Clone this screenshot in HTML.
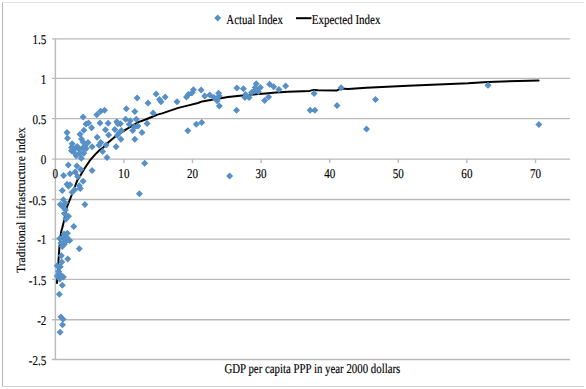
<!DOCTYPE html>
<html><head><meta charset="utf-8"><style>
html,body{margin:0;padding:0;background:#fff;}
body{width:586px;height:389px;overflow:hidden;position:relative;}
svg{position:absolute;left:0;top:0;}
text{font-family:"Liberation Serif",serif;font-size:13.5px;fill:#000;stroke:#000;stroke-width:0.15px;text-rendering:geometricPrecision;}
text.n{font-size:13.5px;}
</style></head><body>
<svg width="586" height="389" viewBox="0 0 586 389">
<rect x="0" y="0" width="586" height="389" fill="#fff"/>
<line x1="2.5" y1="2" x2="2.5" y2="387" stroke="#b5b5b5" stroke-width="1"/>
<line x1="2" y1="2.5" x2="584" y2="2.5" stroke="#e3e3e3" stroke-width="1"/>
<line x1="2" y1="386.5" x2="584" y2="386.5" stroke="#d2d2d2" stroke-width="1"/>
<g stroke="#bababa" stroke-width="1.4"><line x1="52" y1="38.90" x2="570" y2="38.90"/><line x1="52" y1="78.40" x2="570" y2="78.40"/><line x1="52" y1="118.60" x2="570" y2="118.60"/><line x1="52" y1="159.10" x2="570" y2="159.10"/><line x1="52" y1="199.50" x2="570" y2="199.50"/><line x1="52" y1="239.10" x2="570" y2="239.10"/><line x1="52" y1="279.40" x2="570" y2="279.40"/><line x1="52" y1="319.80" x2="570" y2="319.80"/><line x1="52" y1="359.50" x2="570" y2="359.50"/>
<line x1="55.4" y1="38.9" x2="55.4" y2="359.5"/><line x1="123.90" y1="159" x2="123.90" y2="163"/><line x1="192.50" y1="159" x2="192.50" y2="163"/><line x1="261.10" y1="159" x2="261.10" y2="163"/><line x1="329.70" y1="159" x2="329.70" y2="163"/><line x1="398.30" y1="159" x2="398.30" y2="163"/><line x1="466.90" y1="159" x2="466.90" y2="163"/><line x1="535.50" y1="159" x2="535.50" y2="163"/></g>
<g><text class="n" transform="translate(46.4 44.20) scale(0.82 1)" text-anchor="end">1.5</text><text class="n" transform="translate(46.4 83.70) scale(0.82 1)" text-anchor="end">1</text><text class="n" transform="translate(46.4 123.90) scale(0.82 1)" text-anchor="end">0.5</text><text class="n" transform="translate(46.4 164.40) scale(0.82 1)" text-anchor="end">0</text><text class="n" transform="translate(46.4 204.80) scale(0.82 1)" text-anchor="end">-0.5</text><text class="n" transform="translate(46.4 244.40) scale(0.82 1)" text-anchor="end">-1</text><text class="n" transform="translate(46.4 284.70) scale(0.82 1)" text-anchor="end">-1.5</text><text class="n" transform="translate(46.4 325.10) scale(0.82 1)" text-anchor="end">-2</text><text class="n" transform="translate(46.4 364.80) scale(0.82 1)" text-anchor="end">-2.5</text><text class="n" transform="translate(55.30 178) scale(0.82 1)" text-anchor="middle">0</text><text class="n" transform="translate(123.90 178) scale(0.82 1)" text-anchor="middle">10</text><text class="n" transform="translate(192.50 178) scale(0.82 1)" text-anchor="middle">20</text><text class="n" transform="translate(261.10 178) scale(0.82 1)" text-anchor="middle">30</text><text class="n" transform="translate(329.70 178) scale(0.82 1)" text-anchor="middle">40</text><text class="n" transform="translate(398.30 178) scale(0.82 1)" text-anchor="middle">50</text><text class="n" transform="translate(466.90 178) scale(0.82 1)" text-anchor="middle">60</text><text class="n" transform="translate(535.50 178) scale(0.82 1)" text-anchor="middle">70</text></g>
<path d="M57.0 283.0 L58.3 263.5 L59.3 248.6 L61.0 232.5 L62.3 227.8 L63.6 222.4 L66.8 207.3 L71.7 195.0 L77.3 180.3 L80.4 175.6 L84.2 169.0 L90.4 159.8 L95.5 154.1 L99.7 150.0 L103.4 147.4 L108.5 142.2 L114.1 137.5 L124.9 130.1 L131.6 126.2 L138.4 122.1 L145.7 119.5 L152.9 116.5 L157.5 114.6 L162.1 113.4 L168.0 111.4 L178.3 107.9 L188.5 105.4 L198.0 103.0 L202.1 101.4 L213.4 99.6 L228.0 97.0 L242.4 95.4 L258.0 94.1 L265.7 93.4 L276.0 92.4 L288.0 91.8 L309.6 90.9 L313.7 89.9 L318.0 90.3 L337.0 90.4 L340.6 88.6 L348.0 88.9 L366.4 87.7 L408.0 85.8 L468.0 83.2 L487.8 81.9 L538.6 80.4" fill="none" stroke="#000" stroke-width="2" stroke-linejoin="round" stroke-linecap="round"/>
<path d="M83.1 113.5l3.5 3.5l-3.5 3.5l-3.5 -3.5zM96.8 111.2l3.5 3.5l-3.5 3.5l-3.5 -3.5zM100.6 107.8l3.5 3.5l-3.5 3.5l-3.5 -3.5zM104.5 106.8l3.5 3.5l-3.5 3.5l-3.5 -3.5zM86.0 120.6l3.5 3.5l-3.5 3.5l-3.5 -3.5zM88.5 119.6l3.5 3.5l-3.5 3.5l-3.5 -3.5zM91.6 124.2l3.5 3.5l-3.5 3.5l-3.5 -3.5zM100.0 119.4l3.5 3.5l-3.5 3.5l-3.5 -3.5zM108.1 119.8l3.5 3.5l-3.5 3.5l-3.5 -3.5zM83.9 126.8l3.5 3.5l-3.5 3.5l-3.5 -3.5zM80.0 130.7l3.5 3.5l-3.5 3.5l-3.5 -3.5zM67.0 129.1l3.5 3.5l-3.5 3.5l-3.5 -3.5zM67.5 134.8l3.5 3.5l-3.5 3.5l-3.5 -3.5zM105.5 126.2l3.5 3.5l-3.5 3.5l-3.5 -3.5zM97.1 133.8l3.5 3.5l-3.5 3.5l-3.5 -3.5zM81.5 135.5l3.5 3.5l-3.5 3.5l-3.5 -3.5zM108.6 131.4l3.5 3.5l-3.5 3.5l-3.5 -3.5zM88.0 138.9l3.5 3.5l-3.5 3.5l-3.5 -3.5zM72.1 140.3l3.5 3.5l-3.5 3.5l-3.5 -3.5zM92.1 143.2l3.5 3.5l-3.5 3.5l-3.5 -3.5zM100.8 139.0l3.5 3.5l-3.5 3.5l-3.5 -3.5zM99.0 141.8l3.5 3.5l-3.5 3.5l-3.5 -3.5zM106.1 141.5l3.5 3.5l-3.5 3.5l-3.5 -3.5zM102.6 148.0l3.5 3.5l-3.5 3.5l-3.5 -3.5zM107.0 154.1l3.5 3.5l-3.5 3.5l-3.5 -3.5zM81.3 154.8l3.5 3.5l-3.5 3.5l-3.5 -3.5zM71.5 144.0l3.5 3.5l-3.5 3.5l-3.5 -3.5zM71.5 147.3l3.5 3.5l-3.5 3.5l-3.5 -3.5zM75.7 144.2l3.5 3.5l-3.5 3.5l-3.5 -3.5zM77.2 142.9l3.5 3.5l-3.5 3.5l-3.5 -3.5zM82.9 144.2l3.5 3.5l-3.5 3.5l-3.5 -3.5zM86.2 145.0l3.5 3.5l-3.5 3.5l-3.5 -3.5zM73.6 148.4l3.5 3.5l-3.5 3.5l-3.5 -3.5zM79.8 149.4l3.5 3.5l-3.5 3.5l-3.5 -3.5zM83.8 149.8l3.5 3.5l-3.5 3.5l-3.5 -3.5zM76.2 152.3l3.5 3.5l-3.5 3.5l-3.5 -3.5zM68.3 161.5l3.5 3.5l-3.5 3.5l-3.5 -3.5zM76.9 162.6l3.5 3.5l-3.5 3.5l-3.5 -3.5zM80.8 165.9l3.5 3.5l-3.5 3.5l-3.5 -3.5zM75.2 168.5l3.5 3.5l-3.5 3.5l-3.5 -3.5zM70.0 170.2l3.5 3.5l-3.5 3.5l-3.5 -3.5zM63.6 172.1l3.5 3.5l-3.5 3.5l-3.5 -3.5zM92.1 167.1l3.5 3.5l-3.5 3.5l-3.5 -3.5zM77.7 173.1l3.5 3.5l-3.5 3.5l-3.5 -3.5zM83.1 177.7l3.5 3.5l-3.5 3.5l-3.5 -3.5zM67.0 180.8l3.5 3.5l-3.5 3.5l-3.5 -3.5zM70.0 181.3l3.5 3.5l-3.5 3.5l-3.5 -3.5zM68.5 182.8l3.5 3.5l-3.5 3.5l-3.5 -3.5zM62.3 187.0l3.5 3.5l-3.5 3.5l-3.5 -3.5zM79.3 182.3l3.5 3.5l-3.5 3.5l-3.5 -3.5zM80.3 184.9l3.5 3.5l-3.5 3.5l-3.5 -3.5zM74.7 186.3l3.5 3.5l-3.5 3.5l-3.5 -3.5zM72.1 188.8l3.5 3.5l-3.5 3.5l-3.5 -3.5zM63.4 196.3l3.5 3.5l-3.5 3.5l-3.5 -3.5zM65.4 199.3l3.5 3.5l-3.5 3.5l-3.5 -3.5zM60.3 200.9l3.5 3.5l-3.5 3.5l-3.5 -3.5zM63.4 204.0l3.5 3.5l-3.5 3.5l-3.5 -3.5zM65.4 206.5l3.5 3.5l-3.5 3.5l-3.5 -3.5zM64.4 210.1l3.5 3.5l-3.5 3.5l-3.5 -3.5zM68.5 212.7l3.5 3.5l-3.5 3.5l-3.5 -3.5zM65.9 215.8l3.5 3.5l-3.5 3.5l-3.5 -3.5zM84.9 200.9l3.5 3.5l-3.5 3.5l-3.5 -3.5zM73.8 223.1l3.5 3.5l-3.5 3.5l-3.5 -3.5zM62.3 243.1l3.5 3.5l-3.5 3.5l-3.5 -3.5zM79.3 245.3l3.5 3.5l-3.5 3.5l-3.5 -3.5zM61.3 252.3l3.5 3.5l-3.5 3.5l-3.5 -3.5zM67.7 255.4l3.5 3.5l-3.5 3.5l-3.5 -3.5zM61.8 258.6l3.5 3.5l-3.5 3.5l-3.5 -3.5zM57.2 262.2l3.5 3.5l-3.5 3.5l-3.5 -3.5zM60.3 263.2l3.5 3.5l-3.5 3.5l-3.5 -3.5zM58.7 267.9l3.5 3.5l-3.5 3.5l-3.5 -3.5zM60.3 270.9l3.5 3.5l-3.5 3.5l-3.5 -3.5zM57.2 272.5l3.5 3.5l-3.5 3.5l-3.5 -3.5zM63.4 273.5l3.5 3.5l-3.5 3.5l-3.5 -3.5zM59.8 275.6l3.5 3.5l-3.5 3.5l-3.5 -3.5zM62.3 281.7l3.5 3.5l-3.5 3.5l-3.5 -3.5zM59.3 290.7l3.5 3.5l-3.5 3.5l-3.5 -3.5zM60.9 313.4l3.5 3.5l-3.5 3.5l-3.5 -3.5zM63.0 315.8l3.5 3.5l-3.5 3.5l-3.5 -3.5zM62.5 321.2l3.5 3.5l-3.5 3.5l-3.5 -3.5zM60.1 328.8l3.5 3.5l-3.5 3.5l-3.5 -3.5zM137.1 94.5l3.5 3.5l-3.5 3.5l-3.5 -3.5zM126.3 105.3l3.5 3.5l-3.5 3.5l-3.5 -3.5zM134.8 108.0l3.5 3.5l-3.5 3.5l-3.5 -3.5zM148.0 99.6l3.5 3.5l-3.5 3.5l-3.5 -3.5zM156.1 90.4l3.5 3.5l-3.5 3.5l-3.5 -3.5zM159.5 96.0l3.5 3.5l-3.5 3.5l-3.5 -3.5zM161.0 98.2l3.5 3.5l-3.5 3.5l-3.5 -3.5zM165.2 93.6l3.5 3.5l-3.5 3.5l-3.5 -3.5zM153.1 109.5l3.5 3.5l-3.5 3.5l-3.5 -3.5zM125.6 115.7l3.5 3.5l-3.5 3.5l-3.5 -3.5zM130.2 117.2l3.5 3.5l-3.5 3.5l-3.5 -3.5zM136.3 115.7l3.5 3.5l-3.5 3.5l-3.5 -3.5zM116.8 118.3l3.5 3.5l-3.5 3.5l-3.5 -3.5zM117.8 120.3l3.5 3.5l-3.5 3.5l-3.5 -3.5zM120.4 120.3l3.5 3.5l-3.5 3.5l-3.5 -3.5zM129.2 120.8l3.5 3.5l-3.5 3.5l-3.5 -3.5zM147.1 120.1l3.5 3.5l-3.5 3.5l-3.5 -3.5zM114.8 126.0l3.5 3.5l-3.5 3.5l-3.5 -3.5zM121.4 127.0l3.5 3.5l-3.5 3.5l-3.5 -3.5zM118.9 129.6l3.5 3.5l-3.5 3.5l-3.5 -3.5zM117.3 131.8l3.5 3.5l-3.5 3.5l-3.5 -3.5zM134.3 123.4l3.5 3.5l-3.5 3.5l-3.5 -3.5zM137.9 122.4l3.5 3.5l-3.5 3.5l-3.5 -3.5zM132.7 127.0l3.5 3.5l-3.5 3.5l-3.5 -3.5zM142.0 129.1l3.5 3.5l-3.5 3.5l-3.5 -3.5zM120.9 135.7l3.5 3.5l-3.5 3.5l-3.5 -3.5zM134.8 135.7l3.5 3.5l-3.5 3.5l-3.5 -3.5zM116.1 143.3l3.5 3.5l-3.5 3.5l-3.5 -3.5zM144.7 159.7l3.5 3.5l-3.5 3.5l-3.5 -3.5zM139.4 190.2l3.5 3.5l-3.5 3.5l-3.5 -3.5zM177.0 98.3l3.5 3.5l-3.5 3.5l-3.5 -3.5zM186.5 93.4l3.5 3.5l-3.5 3.5l-3.5 -3.5zM188.3 91.1l3.5 3.5l-3.5 3.5l-3.5 -3.5zM193.4 86.2l3.5 3.5l-3.5 3.5l-3.5 -3.5zM192.3 88.9l3.5 3.5l-3.5 3.5l-3.5 -3.5zM201.1 86.4l3.5 3.5l-3.5 3.5l-3.5 -3.5zM204.7 92.6l3.5 3.5l-3.5 3.5l-3.5 -3.5zM209.8 91.5l3.5 3.5l-3.5 3.5l-3.5 -3.5zM214.0 94.1l3.5 3.5l-3.5 3.5l-3.5 -3.5zM217.1 97.2l3.5 3.5l-3.5 3.5l-3.5 -3.5zM218.6 89.7l3.5 3.5l-3.5 3.5l-3.5 -3.5zM219.2 92.6l3.5 3.5l-3.5 3.5l-3.5 -3.5zM219.3 102.5l3.5 3.5l-3.5 3.5l-3.5 -3.5zM236.9 84.4l3.5 3.5l-3.5 3.5l-3.5 -3.5zM243.4 85.2l3.5 3.5l-3.5 3.5l-3.5 -3.5zM245.5 91.1l3.5 3.5l-3.5 3.5l-3.5 -3.5zM244.9 94.1l3.5 3.5l-3.5 3.5l-3.5 -3.5zM249.1 94.1l3.5 3.5l-3.5 3.5l-3.5 -3.5zM251.6 89.0l3.5 3.5l-3.5 3.5l-3.5 -3.5zM256.2 80.3l3.5 3.5l-3.5 3.5l-3.5 -3.5zM255.2 83.9l3.5 3.5l-3.5 3.5l-3.5 -3.5zM260.4 83.9l3.5 3.5l-3.5 3.5l-3.5 -3.5zM258.3 88.0l3.5 3.5l-3.5 3.5l-3.5 -3.5zM254.2 87.5l3.5 3.5l-3.5 3.5l-3.5 -3.5zM264.6 96.9l3.5 3.5l-3.5 3.5l-3.5 -3.5zM269.6 80.8l3.5 3.5l-3.5 3.5l-3.5 -3.5zM268.6 93.4l3.5 3.5l-3.5 3.5l-3.5 -3.5zM236.5 106.7l3.5 3.5l-3.5 3.5l-3.5 -3.5zM273.7 83.3l3.5 3.5l-3.5 3.5l-3.5 -3.5zM278.9 85.9l3.5 3.5l-3.5 3.5l-3.5 -3.5zM285.6 82.5l3.5 3.5l-3.5 3.5l-3.5 -3.5zM314.1 90.0l3.5 3.5l-3.5 3.5l-3.5 -3.5zM310.1 106.7l3.5 3.5l-3.5 3.5l-3.5 -3.5zM314.9 106.7l3.5 3.5l-3.5 3.5l-3.5 -3.5zM337.0 102.1l3.5 3.5l-3.5 3.5l-3.5 -3.5zM341.1 84.3l3.5 3.5l-3.5 3.5l-3.5 -3.5zM375.5 95.9l3.5 3.5l-3.5 3.5l-3.5 -3.5zM187.8 127.2l3.5 3.5l-3.5 3.5l-3.5 -3.5zM196.3 120.7l3.5 3.5l-3.5 3.5l-3.5 -3.5zM201.7 119.0l3.5 3.5l-3.5 3.5l-3.5 -3.5zM366.5 125.4l3.5 3.5l-3.5 3.5l-3.5 -3.5zM229.6 172.6l3.5 3.5l-3.5 3.5l-3.5 -3.5zM488.0 81.8l3.5 3.5l-3.5 3.5l-3.5 -3.5zM538.9 121.1l3.5 3.5l-3.5 3.5l-3.5 -3.5zM64.1 230.6l3.5 3.5l-3.5 3.5l-3.5 -3.5zM67.4 229.8l3.5 3.5l-3.5 3.5l-3.5 -3.5zM59.7 235.0l3.5 3.5l-3.5 3.5l-3.5 -3.5zM69.7 237.0l3.5 3.5l-3.5 3.5l-3.5 -3.5zM61.0 239.5l3.5 3.5l-3.5 3.5l-3.5 -3.5zM64.5 240.5l3.5 3.5l-3.5 3.5l-3.5 -3.5zM63.0 234.1l3.5 3.5l-3.5 3.5l-3.5 -3.5zM66.8 233.7l3.5 3.5l-3.5 3.5l-3.5 -3.5zM65.6 237.5l3.5 3.5l-3.5 3.5l-3.5 -3.5zM79.5 146.0l3.5 3.5l-3.5 3.5l-3.5 -3.5zM83.0 138.5l3.5 3.5l-3.5 3.5l-3.5 -3.5zM85.5 141.5l3.5 3.5l-3.5 3.5l-3.5 -3.5z" fill="#5790c6"/>
<path d="M217.7 14.5l3.5 3.5l-3.5 3.5l-3.5 -3.5z" fill="#5790c6"/>
<line x1="296" y1="18.2" x2="311.5" y2="18.2" stroke="#000" stroke-width="2"/>
<text transform="translate(226.3 24) scale(0.807 1)">Actual Index</text>
<text transform="translate(311.7 24) scale(0.815 1)">Expected Index</text>
<text transform="translate(224.4 373.1) scale(0.803 1)">GDP per capita PPP in year 2000 dollars</text>
<text style="font-size:12.5px" transform="translate(25 273.0) rotate(-90) scale(0.931 1)">Traditional infrastructure index</text>
</svg>
</body></html>
